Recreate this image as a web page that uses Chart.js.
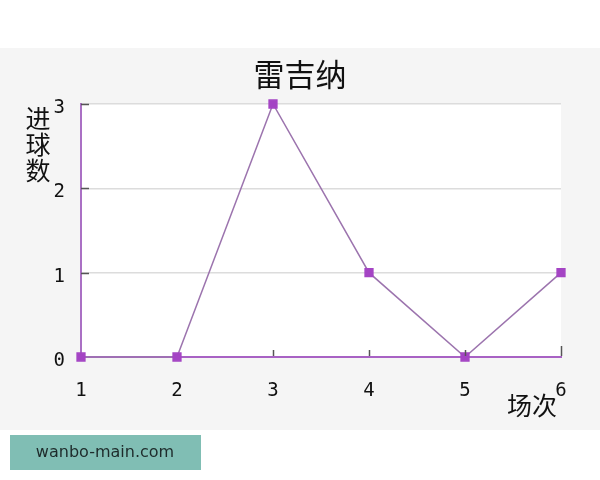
<!DOCTYPE html>
<html>
<head>
<meta charset="utf-8">
<script src="https://cdn.jsdelivr.net/npm/chart.js@4"></script>
<style>
  html, body { margin: 0; padding: 0; background: #fff; }
  #wrap { width: 600px; height: 480px; position: relative; }
</style>
</head>
<body>
<div id="wrap"><canvas id="goalChart" width="600" height="480"></canvas></div>
<script>
const matchLabels = ['1', '2', '3', '4', '5', '6'];
const goals = [0, 0, 3, 1, 0, 1];
const yTicks = [0, 1, 2, 3];
const chartTitle = '雷吉纳';
const yTitle = ['进', '球', '数'];
const xTitle = '场次';
const watermark = 'wanbo-main.com';

const CJK = '"Noto Sans CJK SC", "Noto Sans", sans-serif';
const MONO = '"DejaVu Sans Mono", monospace';

// background panel, white plot area, inward tick marks and texts
const decorPlugin = {
    id: 'decor',
    beforeDraw(chart) {
        const { ctx, chartArea } = chart;
        ctx.save();
        ctx.fillStyle = '#ffffff';
        ctx.fillRect(0, 0, chart.width, chart.height);
        ctx.fillStyle = '#f5f5f5';
        ctx.fillRect(0, 48, chart.width, 382);
        ctx.fillStyle = '#ffffff';
        ctx.fillRect(chartArea.left, chartArea.top, chartArea.right - chartArea.left, chartArea.bottom - chartArea.top);
        ctx.restore();
    },
    afterDatasetsDraw(chart) {
        const { ctx, chartArea, scales } = chart;
        ctx.save();
        ctx.strokeStyle = '#555';
        ctx.lineWidth = 1.5;
        yTicks.slice(1).forEach(v => {
            const y = Math.round(scales.y.getPixelForValue(v)) + 0.5;
            ctx.beginPath();
            ctx.moveTo(chartArea.left, y);
            ctx.lineTo(chartArea.left + 8, y);
            ctx.stroke();
        });
        matchLabels.forEach((l, i) => {
            if (i < 2) return;
            const x = Math.round(scales.x.getPixelForValue(i)) + 0.5;
            ctx.beginPath();
            ctx.moveTo(x, chartArea.bottom - 1);
            ctx.lineTo(x, chartArea.bottom - (i === matchLabels.length - 1 ? 11 : 7));
            ctx.stroke();
        });

        ctx.fillStyle = '#111';
        ctx.textAlign = 'center';
        ctx.textBaseline = 'middle';
        ctx.font = '31px ' + CJK;
        ctx.fillText(chartTitle, 300, 74);
        ctx.font = '25px ' + CJK;
        yTitle.forEach((c, i) => ctx.fillText(c, 38, 118 + i * 26));
        ctx.fillText(xTitle, 532, 405);

        ctx.fillStyle = '#80beb4';
        ctx.fillRect(10, 435, 191, 35);
        ctx.fillStyle = '#1e2b2b';
        ctx.font = '16px "DejaVu Sans", sans-serif';
        ctx.fillText(watermark, 105, 453);
        ctx.restore();
    }
};

const ctx = document.getElementById('goalChart').getContext('2d');
new Chart(ctx, {
    type: 'line',
    data: {
        labels: matchLabels,
        datasets: [{
            data: goals,
            borderColor: '#9c74ae',
            borderWidth: 1.5,
            pointStyle: 'rect',
            pointRadius: 5.5,
            pointBackgroundColor: '#a444c4',
            pointBorderColor: '#a444c4',
            tension: 0,
            clip: false
        }]
    },
    options: {
        responsive: false,
        animation: false,
        devicePixelRatio: 1,
        layout: { padding: { left: 40, top: 104, right: 39, bottom: 83 } },
        plugins: {
            legend: { display: false },
            tooltip: { enabled: false }
        },
        scales: {
            x: {
                offset: false,
                grid: { display: false, drawTicks: false },
                border: { color: '#a862c4', width: 2 },
                ticks: {
                    color: '#111',
                    padding: 23,
                    maxRotation: 0,
                    font: { family: MONO, size: 19 }
                },
                afterFit(scale) { scale.height = 40; }
            },
            y: {
                min: 0,
                max: 3,
                afterBuildTicks(scale) { scale.ticks = yTicks.map(v => ({ value: v })); },
                grid: { color: '#dcdcdc', lineWidth: 1.5, drawTicks: false },
                border: { color: '#aa70c4', width: 2 },
                ticks: {
                    color: '#111',
                    padding: 16,
                    labelOffset: 4,
                    font: { family: MONO, size: 19 }
                },
                afterFit(scale) { scale.width = 41; }
            }
        }
    },
    plugins: [decorPlugin]
});
</script>
</body>
</html>
